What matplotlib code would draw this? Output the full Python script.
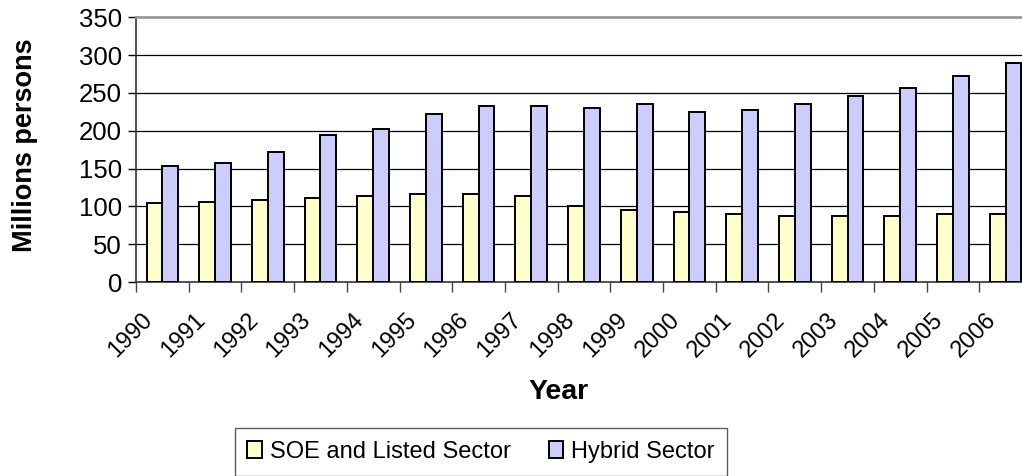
import numpy as np
import matplotlib
matplotlib.use("Agg")
import matplotlib.pyplot as plt
import matplotlib.transforms as mtransforms

plt.rcParams['font.family'] = ['Liberation Sans', 'DejaVu Sans']

years = [str(y) for y in range(1990, 2007)]
soe = [104, 106, 108, 111, 114, 116, 116, 114, 100, 95, 93, 90, 87, 87, 87, 90, 90]
hybrid = [154, 158, 172, 194, 202, 222, 233, 233, 230, 236, 225, 228, 236, 246, 257, 273, 289]
yticks = [0, 50, 100, 150, 200, 250, 300, 350]

fig = plt.figure(figsize=(10.22, 4.76), dpi=100)
ax = fig.add_axes([136/1022, 1-282/476, 896/1022, (282-17.3)/476])

x = np.arange(len(years))
w = 0.3
ax.bar(x - w/2, soe, w, color='#FFFFCC', edgecolor='black', linewidth=1.4,
       label='SOE and Listed Sector', zorder=3)
ax.bar(x + w/2, hybrid, w, color='#CCCCFF', edgecolor='black', linewidth=1.4,
       label='Hybrid Sector', zorder=3)

ax.set_xlim(-0.5, len(years) - 0.5)
ax.set_ylim(0, 350)
ax.set_yticks(yticks)
ax.tick_params(axis='y', labelsize=18.5, length=6, width=1, direction='out', pad=4)
for v in yticks[1:-1]:
    ax.axhline(v, color='black', lw=0.9, zorder=1)

# category ticks at boundaries, labels at centers
ax.set_xticks(np.arange(len(years) + 1) - 0.5)
ax.set_xticklabels([])
ax.set_xticks(x, minor=True)
ax.set_xticklabels(years, minor=True, rotation=45, ha='right', va='center',
                   rotation_mode='anchor', fontsize=17)
ax.tick_params(axis='x', which='minor', length=0, pad=22)
ax.tick_params(axis='x', which='major', length=7, width=1, color='#444444')
shift = mtransforms.ScaledTranslation(-13/100, -4/100, fig.dpi_scale_trans)
for lab in ax.get_xticklabels(minor=True):
    lab.set_transform(lab.get_transform() + shift)

ax.spines['right'].set_visible(False)
ax.spines['top'].set_color('#999999')
ax.spines['top'].set_linewidth(2)
ax.spines['left'].set_color('#333333')
ax.spines['bottom'].set_color('#333333')
ax.spines['left'].set_linewidth(1.2)
ax.spines['bottom'].set_linewidth(1.2)

fig.text(25/1022, 1-145/476, 'Millions persons', rotation=90, ha='center', va='center',
         fontsize=19.5, fontweight='bold')
fig.text(559/1022, 1-392/476, 'Year', ha='center', va='center',
         fontsize=20.5, fontweight='bold')

leg = fig.legend(loc='center', bbox_to_anchor=(481/1022, 1-452/476), ncol=2,
                 fontsize=17, frameon=True, fancybox=False, handlelength=0.6,
                 handleheight=0.7, columnspacing=1.6, handletextpad=0.35,
                 borderpad=0.55)
leg.get_frame().set_edgecolor('#333333')
leg.get_frame().set_linewidth(1)

fig.savefig('out.png', dpi=100)
